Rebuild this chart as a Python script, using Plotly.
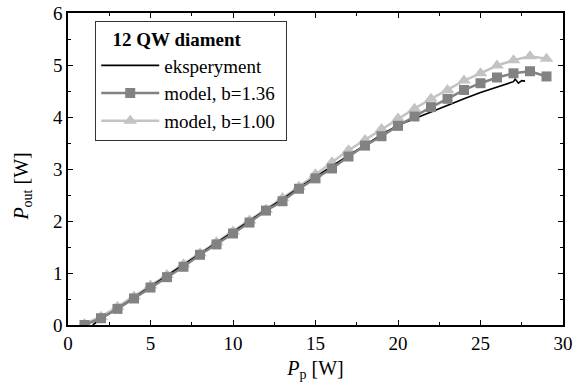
import plotly.graph_objects as go

# Model points (pump power, W)
pump_model = list(range(1, 30))
# model, b=1.36
pout_b136 = [0.00, 0.13, 0.31, 0.51, 0.72, 0.92, 1.12, 1.35, 1.55, 1.76,
             1.97, 2.20, 2.38, 2.62, 2.82, 3.01, 3.24, 3.45, 3.63, 3.83,
             4.01, 4.19, 4.35, 4.52, 4.65, 4.76, 4.84, 4.88, 4.78]
# model, b=1.00
pout_b100 = [0.02, 0.16, 0.35, 0.55, 0.76, 0.96, 1.17, 1.38, 1.59, 1.80,
             2.01, 2.22, 2.44, 2.66, 2.90, 3.13, 3.36, 3.56, 3.77, 3.97,
             4.16, 4.35, 4.52, 4.70, 4.84, 4.99, 5.09, 5.17, 5.12]
# experiment
pump_exp = [1.5, 2, 3, 4, 5, 6, 7, 8, 9, 10, 11, 12, 13, 14, 15, 16, 17, 18,
            19, 20, 21, 22, 23, 24, 25, 26, 26.5, 26.8, 27.0, 27.1, 27.3, 27.5, 27.7]
pout_exp = [0.00, 0.12, 0.32, 0.53, 0.74, 0.94, 1.15, 1.37, 1.58, 1.79, 2.00,
            2.22, 2.42, 2.64, 2.85, 3.05, 3.26, 3.46, 3.66, 3.84, 3.97, 4.09,
            4.23, 4.35, 4.47, 4.57, 4.62, 4.66, 4.68, 4.73, 4.65, 4.70, 4.69]

FONT = "Liberation Serif, Times New Roman, serif"

fig = go.Figure()
fig.add_trace(go.Scatter(
    x=pump_model, y=pout_b100, mode="lines+markers", name="model, b=1.00",
    line=dict(color="#c3c3c3", width=2.5),
    marker=dict(symbol="triangle-up", size=12, color="#c3c3c3"),
    legendrank=3))
fig.add_trace(go.Scatter(
    x=pump_exp, y=pout_exp, mode="lines", name="eksperyment",
    line=dict(color="black", width=1.6), legendrank=1))
fig.add_trace(go.Scatter(
    x=pump_model, y=pout_b136, mode="lines+markers", name="model, b=1.36",
    line=dict(color="#828282", width=2.5),
    marker=dict(symbol="square", size=10, color="#828282"),
    legendrank=2))

axis_common = dict(
    showgrid=False, zeroline=False, showline=True, linecolor="black", linewidth=1.5,
    mirror="allticks", ticks="inside", ticklen=5, tickwidth=1.2, tickcolor="black",
    tickfont=dict(family=FONT, size=19, color="black"), automargin=False,
)
fig.update_xaxes(range=[0, 30], dtick=5, tick0=0,
                 minor=dict(ticks="inside", dtick=2.5, ticklen=3, tickcolor="black", tickwidth=1),
                 title=dict(text="<i>P</i><sub>p</sub> [W]", font=dict(family=FONT, size=20, color="black"), standoff=8),
                 **axis_common)
fig.update_yaxes(range=[0, 6], dtick=1, tick0=0,
                 minor=dict(ticks="inside", dtick=0.5, ticklen=3, tickcolor="black", tickwidth=1),
                 **axis_common)

fig.add_annotation(
    text="<i>P</i><sub>out</sub> [W]", textangle=-90,
    xref="paper", yref="paper", x=-0.092, y=0.445,
    xanchor="center", yanchor="middle", showarrow=False,
    font=dict(family=FONT, size=20, color="black"))

fig.update_layout(
    width=576, height=385,
    margin=dict(l=68, r=13, t=13, b=60, autoexpand=False),
    paper_bgcolor="white", plot_bgcolor="white",
    font=dict(family=FONT, size=19, color="black"),
    showlegend=True,
    legend=dict(
        x=0.055, y=0.975, xanchor="left", yanchor="top",
        bgcolor="white", bordercolor="#333333", borderwidth=1,
        title=dict(text="&nbsp;&nbsp;&nbsp;<b>12 QW diament</b>" + "&nbsp;" * 9,
                   font=dict(family=FONT, size=19, color="black")),
        font=dict(family=FONT, size=19, color="black"),
        itemwidth=58, tracegroupgap=0,
    ),
)

fig.write_html("out.html")
